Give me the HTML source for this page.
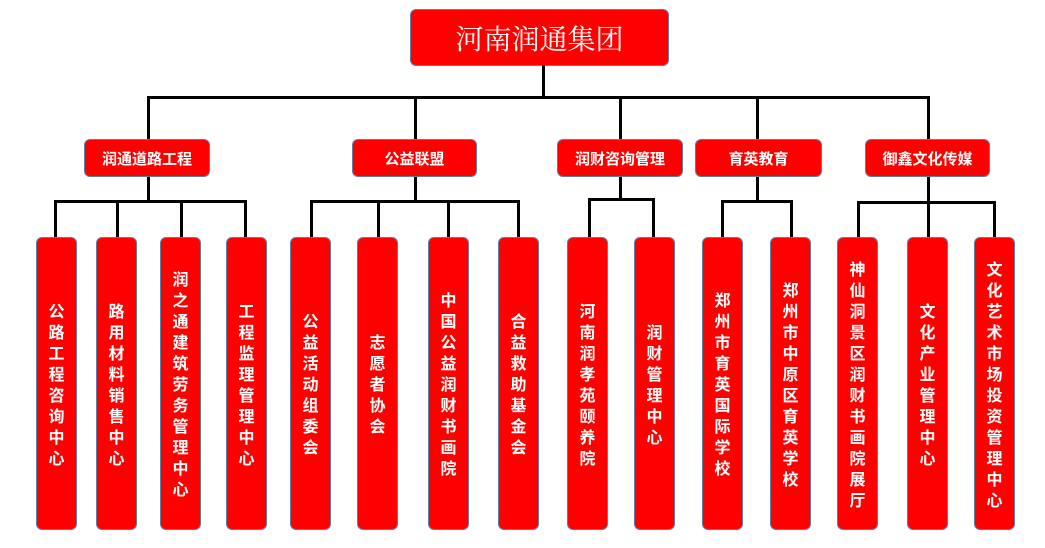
<!DOCTYPE html>
<html><head><meta charset="utf-8"><style>
body{margin:0;width:1045px;height:548px;background:#fff;position:relative;overflow:hidden;font-family:"Liberation Sans","Noto Sans CJK SC",sans-serif}
.b{position:absolute;background:#ff0000;border:1px solid #5f7ea6;border-radius:6px;box-sizing:border-box;color:#fff;display:flex;align-items:center;justify-content:center;text-align:center}
.l2{top:139px;height:38px;font-size:15px;font-weight:bold;font-family:"Noto Sans CJK SC",sans-serif}
.c{top:237px;height:293px;width:41px;font-size:16px;line-height:21px;font-family:"Noto Sans CJK SC",sans-serif;font-weight:bold}
.c span{display:block;width:18px;word-break:break-all}
.h,.v{position:absolute;background:#000}
.h{height:3px}.v{width:3px}
</style></head><body>
<div class="b" style="left:410px;top:9px;width:259px;height:57px;font-size:28px;font-family:'Noto Serif CJK SC',serif">河南润通集团</div>
<div class="v" style="left:542px;top:65px;height:34px"></div>
<div class="h" style="left:147px;top:96px;width:783px"></div>
<div class="v" style="left:147px;top:96px;height:44px"></div>
<div class="v" style="left:414px;top:96px;height:44px"></div>
<div class="v" style="left:619px;top:96px;height:44px"></div>
<div class="v" style="left:756px;top:96px;height:44px"></div>
<div class="v" style="left:927px;top:96px;height:44px"></div>

<div class="b l2" style="left:84px;width:126px">润通道路工程</div>
<div class="b l2" style="left:352px;width:125px">公益联盟</div>
<div class="b l2" style="left:557px;width:126px">润财咨询管理</div>
<div class="b l2" style="left:695px;width:127px">育英教育</div>
<div class="b l2" style="left:865px;width:125px">御鑫文化传媒</div>

<!-- group 1 -->
<div class="v" style="left:147px;top:177px;height:25px"></div>
<div class="h" style="left:54px;top:200px;width:193px"></div>
<div class="v" style="left:54px;top:200px;height:38px"></div>
<div class="v" style="left:116px;top:200px;height:38px"></div>
<div class="v" style="left:180px;top:200px;height:38px"></div>
<div class="v" style="left:244px;top:200px;height:38px"></div>
<!-- group 2 -->
<div class="v" style="left:414px;top:177px;height:25px"></div>
<div class="h" style="left:310px;top:200px;width:210px"></div>
<div class="v" style="left:310px;top:200px;height:38px"></div>
<div class="v" style="left:377px;top:200px;height:38px"></div>
<div class="v" style="left:447px;top:200px;height:38px"></div>
<div class="v" style="left:517px;top:200px;height:38px"></div>
<!-- group 3 -->
<div class="v" style="left:619px;top:177px;height:23px"></div>
<div class="h" style="left:588px;top:198px;width:67px"></div>
<div class="v" style="left:588px;top:198px;height:40px"></div>
<div class="v" style="left:652px;top:198px;height:40px"></div>
<!-- group 4 -->
<div class="v" style="left:756px;top:177px;height:25px"></div>
<div class="h" style="left:721px;top:200px;width:72px"></div>
<div class="v" style="left:721px;top:200px;height:38px"></div>
<div class="v" style="left:790px;top:200px;height:38px"></div>
<!-- group 5 -->
<div class="v" style="left:927px;top:177px;height:62px"></div>
<div class="h" style="left:857px;top:201px;width:139px"></div>
<div class="v" style="left:857px;top:201px;height:38px"></div>
<div class="v" style="left:993px;top:201px;height:38px"></div>

<div class="b c" style="left:36px"><span>公路工程咨询中心</span></div>
<div class="b c" style="left:96px"><span>路用材料销售中心</span></div>
<div class="b c" style="left:160px"><span>润之通建筑劳务管理中心</span></div>
<div class="b c" style="left:226px"><span>工程监理管理中心</span></div>
<div class="b c" style="left:290px"><span>公益活动组委会</span></div>
<div class="b c" style="left:357px"><span>志愿者协会</span></div>
<div class="b c" style="left:428px"><span>中国公益润财书画院</span></div>
<div class="b c" style="left:498px"><span>合益救助基金会</span></div>
<div class="b c" style="left:567px"><span>河南润孝苑颐养院</span></div>
<div class="b c" style="left:634px"><span>润财管理中心</span></div>
<div class="b c" style="left:702px"><span>郑州市育英国际学校</span></div>
<div class="b c" style="left:770px"><span>郑州市中原区育英学校</span></div>
<div class="b c" style="left:837px"><span>神仙洞景区润财书画院展厅</span></div>
<div class="b c" style="left:907px"><span>文化产业管理中心</span></div>
<div class="b c" style="left:974px"><span>文化艺术市场投资管理中心</span></div>
</body></html>
